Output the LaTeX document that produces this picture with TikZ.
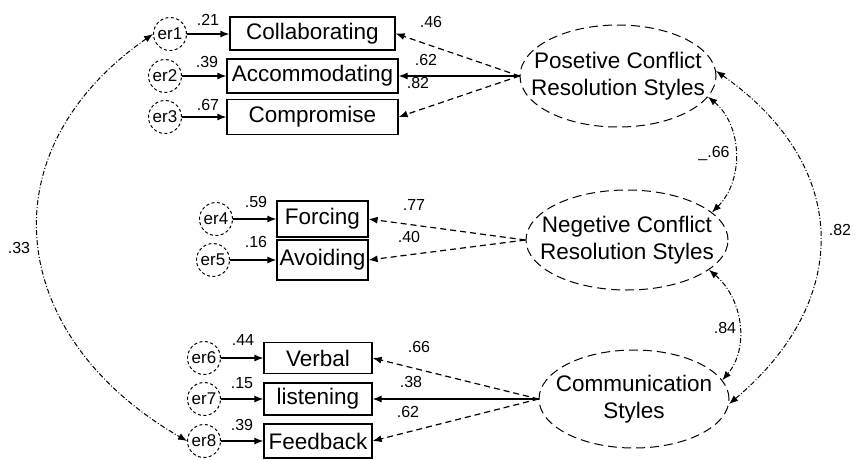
\documentclass[tikz,border=0pt]{standalone}
\usepackage{fontspec}
\setmainfont{Liberation Sans}
\usetikzlibrary{arrows.meta,shapes.geometric}

\def\boxfont{\fontsize{22.5}{27}\selectfont}
\def\coeffont{\fontsize{16}{16}\selectfont}
\def\errfont{\fontsize{17}{17}\selectfont}

\tikzset{
  errvar/.style   = {circle, draw, line width=1pt, dash pattern=on 3pt off 2.5pt,
                     minimum size=33pt, inner sep=0pt, font=\errfont},
  obsvar/.style   = {rectangle, draw, line width=1.2pt, inner sep=0pt, font=\boxfont},
  latvar/.style   = {ellipse, draw, line width=1pt, dash pattern=on 9pt off 5pt, inner sep=0pt},
  lattext/.style  = {align=center, inner sep=0pt, font=\boxfont},
  coef/.style     = {inner sep=0pt, font=\coeffont},
  causal/.style   = {-{Latex[length=9pt,width=7pt]}, line width=1.2pt},
  causaldash/.style = {causal, dash pattern=on 6pt off 4pt},
  cov/.style      = {{Latex[length=9pt,width=7pt]}-{Latex[length=9pt,width=7pt]},
                     line width=1pt, dash pattern=on 5pt off 2pt on 1pt off 2pt}
}

\begin{document}
\begin{tikzpicture}[x=1pt, y=1pt]
  \useasboundingbox (0,0) rectangle (859,-459);

  % latent variables
  \node[latvar, minimum width=196pt, minimum height=102pt] (pos) at (618,-76) {};
  \node[lattext] (postxt) at (pos) {Posetive Conflict\\Resolution Styles};
  \node[latvar, minimum width=202pt, minimum height=100pt] (neg) at (627,-240) {};
  \node[lattext] (negtxt) at (neg) {Negetive Conflict\\Resolution Styles};
  \node[latvar, minimum width=190pt, minimum height=98pt] (com) at (634,-399) {};
  \node[lattext] (comtxt) at (com) {Communication\\Styles};

  % observed variables
  \node[obsvar, minimum width=165pt, minimum height=33pt] (col)  at (312.5,-33.5) {Collaborating};
  \node[obsvar, minimum width=171pt, minimum height=34pt] (acc)  at (312.5,-76)   {Accommodating};
  \node[obsvar, minimum width=171pt, minimum height=35pt] (comp) at (312.5,-117)  {Compromise};
  \node[obsvar, minimum width=91pt,  minimum height=36pt] (forc) at (322.5,-219)  {Forcing};
  \node[obsvar, minimum width=91pt,  minimum height=40pt] (avoi) at (322.5,-260)  {Avoiding};
  \node[obsvar, minimum width=108pt, minimum height=31pt] (verb) at (318,-358)    {Verbal};
  \node[obsvar, minimum width=108pt, minimum height=32pt] (list) at (318,-399)    {listening};
  \node[obsvar, minimum width=108pt, minimum height=34pt] (feed) at (318,-441)    {Feedback};

  % error terms
  \foreach \name/\x/\y/\target in {
      er1/170/-34/col, er2/165/-76/acc, er3/165/-117/comp,
      er4/216/-219/forc, er5/213/-260/avoi,
      er6/204/-358/verb, er7/204/-399/list, er8/204/-441/feed} {
      \node[errvar] (\name) at (\x,\y) {\name};
      \draw[causal] (\name) -- (\name -| \target.west);
    }

  % loadings
  \draw[causaldash] (pos.west) -- (col.east);
  \draw[causal]     (pos.west) -- (acc.east);
  \draw[causaldash] (pos.west) -- (comp.east);
  \draw[causaldash] (neg.west) -- (forc.east);
  \draw[causaldash] (neg.west) -- (avoi.east);
  \draw[causaldash] (com.west) -- (verb.east);
  \draw[causal]     (com.west) -- (list.east);
  \draw[causaldash] (com.west) -- (feed.east);

  % covariances
  \draw[cov] (er1.west) to[out=215, in=150, looseness=1.3] (er8.west);
  \draw[cov] (pos.-13) to[out=-40, in=45] (neg.18);
  \draw[cov] (neg.-20) to[out=-40, in=50] (com.12);
  \draw[cov] (pos.3) to[out=-35, in=40, looseness=1.25] (com.-3);

  % coefficients
  \node[coef] (c21)  at (208,-20)  {.21};
  \node[coef] (c39a) at (207,-62)  {.39};
  \node[coef] (c67)  at (208,-105) {.67};
  \node[coef] (c59)  at (256,-202) {.59};
  \node[coef] (c16)  at (256,-242) {.16};
  \node[coef] (c44)  at (243,-340) {.44};
  \node[coef] (c15)  at (242,-383) {.15};
  \node[coef] (c39b) at (242,-425) {.39};
  \node[coef] (c46)  at (431,-22)  {.46};
  \node[coef] (c62a) at (426,-60)  {.62};
  \node[coef] (c82a) at (418,-83)  {.82};
  \node[coef] (c77)  at (414,-205) {.77};
  \node[coef] (c40)  at (409,-237) {.40};
  \node[coef] (c66b) at (419,-347) {.66};
  \node[coef] (c38)  at (411,-382) {.38};
  \node[coef] (c62b) at (408,-412) {.62};
  \node[coef] (c66a) at (714,-153) {\_.66};
  \node[coef] (c84)  at (725,-328) {.84};
  \node[coef] (c82b) at (840,-230) {.82};
  \node[coef] (c33)  at (19,-248)  {.33};
\end{tikzpicture}
\end{document}
